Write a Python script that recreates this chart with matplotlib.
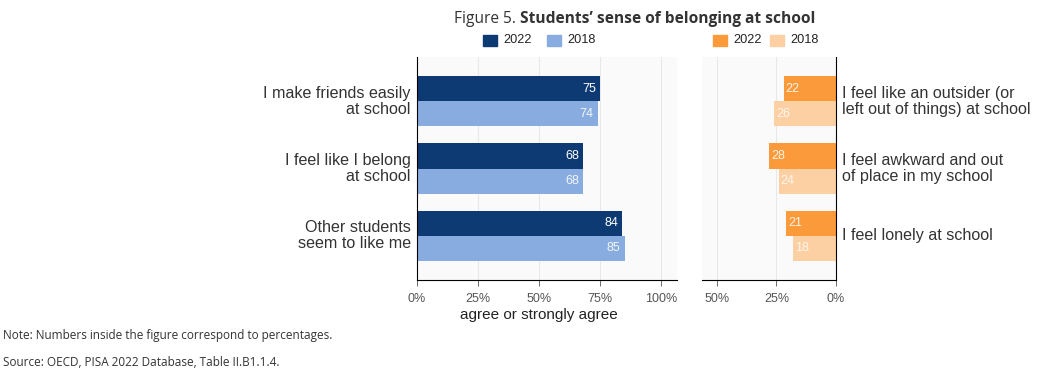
import matplotlib
matplotlib.use("Agg")
import matplotlib.pyplot as plt
import numpy as np

pos_labels = ["I make friends easily\nat school", "I feel like I belong\nat school", "Other students\nseem to like me"]
pos_2022 = [75, 68, 84]
pos_2018 = [74, 68, 85]
neg_labels = ["I feel like an outsider (or\nleft out of things) at school", "I feel awkward and out\nof place in my school", "I feel lonely at school"]
neg_2022 = [22, 28, 21]
neg_2018 = [26, 24, 18]
years = ["2022", "2018"]
left_ticks = [0, 25, 50, 75, 100]
right_ticks = [0, 25, 50]

C_DB = "#0e3a74"
C_LB = "#88ace0"
C_OR = "#fa9a3b"
C_LO = "#fdd0a3"
BG = "#fafafa"
GRID = "#e8e8e8"
TICKC = "#555555"
ARIAL = "Liberation Sans"
OPEN = "Open Sans"

W, H = 1050, 383
fig = plt.figure(figsize=(W / 100, H / 100), dpi=100)

def ax_at(x0, y0, x1, y1):
    return fig.add_axes([x0 / W, 1 - y1 / H, (x1 - x0) / W, (y1 - y0) / H])

axL = ax_at(417, 57, 677, 280)
axR = ax_at(702, 57, 836, 280)

bh = 0.373
y = np.arange(3)
for ax in (axL, axR):
    ax.set_facecolor(BG)
    ax.set_ylim(2.66, -0.66)
    ax.set_yticks([])
    ax.tick_params(axis="x", colors=TICKC, labelsize=9, length=4, width=0.6, pad=5)
    ax.grid(axis="x", color=GRID, linewidth=0.8)
    ax.set_axisbelow(True)
    ax.spines["top"].set_visible(False)

# Left panel
axL.set_xlim(0, 106.5)
axL.spines["right"].set_visible(False)
axL.barh(y - bh / 2, pos_2022, height=bh, color=C_DB)
axL.barh(y + bh / 2, pos_2018, height=bh, color=C_LB)
axL.set_xticks(left_ticks)
axL.set_xticklabels([f"{t}%" for t in left_ticks], fontfamily=ARIAL, color=TICKC, fontsize=9)
for i in range(3):
    axL.text(pos_2022[i] - 1.6, y[i] - bh / 2, str(pos_2022[i]), ha="right", va="center",
             color="white", fontsize=9, fontfamily=ARIAL)
    axL.text(pos_2018[i] - 1.6, y[i] + bh / 2, str(pos_2018[i]), ha="right", va="center",
             color="#f2f6fc", fontsize=9, fontfamily=ARIAL)
    axL.text(-2.6, y[i], pos_labels[i], ha="right", va="center", fontsize=11.6,
             fontfamily=ARIAL, color="#333333", linespacing=1.03)
axL.set_xlabel("agree or strongly agree", fontsize=11, fontfamily=ARIAL, color="#222222", labelpad=0)
axL.xaxis.set_label_coords(0.47, -0.125)

# Right panel
axR.set_xlim(56.3, 0)
axR.spines["left"].set_visible(False)
axR.barh(y - bh / 2, neg_2022, height=bh, color=C_OR)
axR.barh(y + bh / 2, neg_2018, height=bh, color=C_LO)
axR.set_xticks(right_ticks)
axR.set_xticklabels([f"{t}%" for t in right_ticks], fontfamily=ARIAL, color=TICKC, fontsize=9)
for i in range(3):
    axR.text(neg_2022[i] - 0.8, y[i] - bh / 2, str(neg_2022[i]), ha="left", va="center",
             color="#fff3e6", fontsize=9, fontfamily=ARIAL)
    axR.text(neg_2018[i] - 0.8, y[i] + bh / 2, str(neg_2018[i]), ha="left", va="center",
             color="#fff6ee", fontsize=9, fontfamily=ARIAL)
    axR.text(-2.7, y[i], neg_labels[i], ha="left", va="center", fontsize=11.6,
             fontfamily=ARIAL, color="#333333", linespacing=1.03)

# Title
t1 = fig.text(454 / W, 1 - 19 / H, "Figure 5. ", fontsize=11.2, fontfamily=OPEN, color="#333333",
              va="center", ha="left")
fig.canvas.draw()
bb = t1.get_window_extent()
fig.text(bb.x1 / W, 1 - 19 / H, "Students\u2019 sense of belonging at school", fontsize=11.2,
         fontfamily=OPEN, fontweight="bold", color="#333333", va="center", ha="left")

# Legends
def legend_item(x, color, label):
    fig.patches.append(plt.Rectangle((x / W, 1 - 46 / H), 14 / W, 11 / H, color=color,
                                     transform=fig.transFigure, figure=fig))
    fig.text((x + 20) / W, 1 - 40 / H, label, fontsize=9.2, fontfamily=ARIAL, color="#222222",
             va="center", ha="left")

legend_item(483, C_DB, years[0])
legend_item(547, C_LB, years[1])
legend_item(713, C_OR, years[0])
legend_item(770, C_LO, years[1])

# Notes
fig.text(3 / W, 1 - 335 / H, "Note: Numbers inside the figure correspond to percentages.",
         fontsize=8.5, fontfamily=OPEN, color="#333333", va="center", ha="left")
fig.text(3 / W, 1 - 362 / H, "Source: OECD, PISA 2022 Database, Table II.B1.1.4.",
         fontsize=8.5, fontfamily=OPEN, color="#333333", va="center", ha="left")

fig.savefig("out.png", dpi=100, facecolor="white")
